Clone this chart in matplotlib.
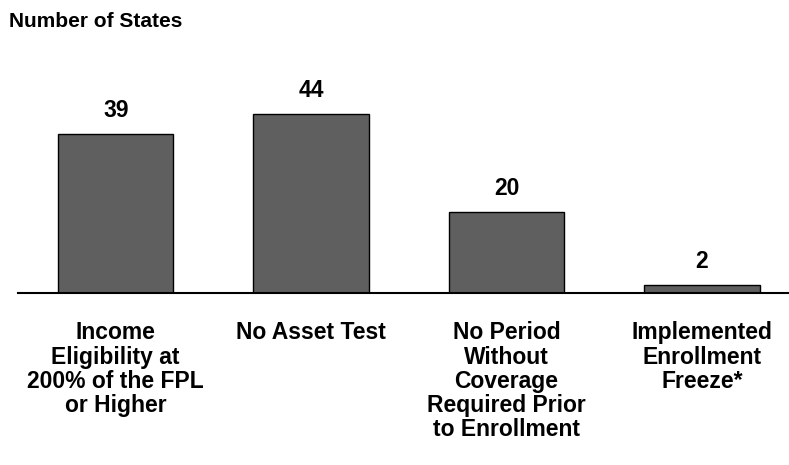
import matplotlib
matplotlib.use("Agg")
import matplotlib.pyplot as plt

categories = [
    "Income\nEligibility at\n200% of the FPL\nor Higher",
    "No Asset Test",
    "No Period\nWithout\nCoverage\nRequired Prior\nto Enrollment",
    "Implemented\nEnrollment\nFreeze*",
]
values = [39, 44, 20, 2]
value_labels = ["39", "44", "20", "2"]

plt.rcParams["font.family"] = ["Liberation Sans", "DejaVu Sans"]
plt.rcParams["font.weight"] = "bold"

fig = plt.figure(figsize=(7.89, 4.65), dpi=100)
ax = fig.add_axes([18 / 789, (465 - 293) / 465, 770 / 789, 233 / 465])

x = list(range(len(values)))
bars = ax.bar(x, values, width=0.59, color="#5f5f5f", edgecolor="black", linewidth=1.0)

ax.set_xlim(-0.5, 3.44)
ax.set_ylim(0, 57.2)

for spine in ["top", "right", "left"]:
    ax.spines[spine].set_visible(False)
ax.spines["bottom"].set_linewidth(1.5)
ax.set_yticks([])
ax.set_xticks([])

for xi, v, lab in zip(x, values, value_labels):
    ax.annotate(lab, xy=(xi, v), xytext=(0, 12), textcoords="offset points",
                ha="center", va="baseline", fontsize=16.5, fontweight="bold")

for xi, cat in zip(x, categories):
    ax.annotate(cat, xy=(xi, 0), xytext=(0, -20.5), textcoords="offset points",
                ha="center", va="top", fontsize=16.5, fontweight="bold",
                linespacing=1.066, multialignment="center")

fig.text(9 / 789, 1 - 12 / 465, "Number of States", ha="left", va="top",
         fontsize=15, fontweight="bold")

fig.savefig("out.png", dpi=100)
